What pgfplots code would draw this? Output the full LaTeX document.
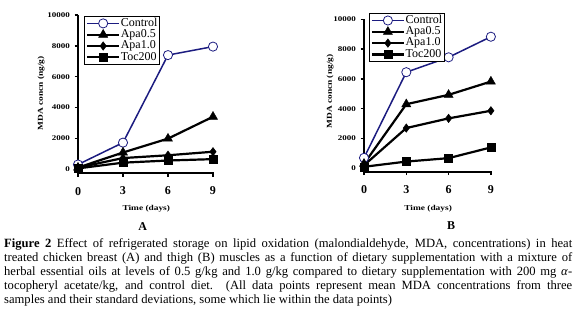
\documentclass[border=0pt]{standalone}
\usepackage{fontspec}
\setmainfont{Liberation Serif}
\newfontfamily\chartfont[FakeStretch=1.25]{Liberation Serif}
\usepackage{pgfplots}
\pgfplotsset{compat=1.18}
\definecolor{ctrl}{RGB}{28,28,128}

\pgfplotsset{
  mda/.style={
    scale only axis,
    axis lines*=left,
    axis line style={line width=1.8pt},
    xmin=0, xmax=9.1, ymax=10000,
    xtick={0,3,6,9},
    ytick={0,2000,4000,6000,8000,10000},
    tick align=outside,
    major tick length=3.5pt,
    every tick/.style={line width=1.5pt, black},
    scaled y ticks=false,
    /pgf/number format/assume math mode=true,
    /pgf/number format/1000 sep={},
    yticklabel style={font=\chartfont\bfseries\fontsize{7.2}{8}\selectfont, xshift=-1pt},
    xticklabel style={font=\bfseries\fontsize{12}{12}\selectfont, yshift=-7pt},
    ylabel={MDA concn (ng/g)},
    xlabel={Time (days)},
    label style={font=\chartfont\bfseries\fontsize{7.5}{8}\selectfont},
    clip=false,
    legend cell align=left,
    legend style={draw=black, line width=0.6pt, font=\fontsize{12}{12}\selectfont,
      inner sep=1.5pt, row sep=0pt, anchor=north west, fill=white,
      nodes={inner sep=0.5pt, text height=8pt, text depth=2.3pt}},
    legend image code/.code={\draw[mark repeat=2,mark phase=2] plot coordinates {(0pt,0pt) (16pt,0pt) (32pt,0pt)};},
  },
  ctrlp/.style={color=ctrl, line width=1.5pt, mark=*, mark size=4.6pt, mark options={fill=white, draw=ctrl, line width=0.8pt}},
  apa5/.style={color=black, line width=2.2pt, mark=triangle*, mark size=5.2pt, mark options={line width=0.5pt}},
  apa10/.style={color=black, line width=2.2pt, mark=diamond*, mark size=4.2pt, mark options={line width=0.5pt}},
  toc/.style={color=black, line width=2.2pt, mark=square*, mark size=4pt, mark options={line width=0.5pt}},
}

\begin{document}
\begin{tikzpicture}
\useasboundingbox (0,0) rectangle (580pt,314pt);

% Panel A
\begin{axis}[mda,
  at={(78pt,141pt)}, anchor=south west,
  width=136.5pt, height=158pt, ymin=-250,
  xlabel style={at={(axis description cs:0.5,-0.225)}, anchor=center},
  ylabel style={at={(axis description cs:-0.271,0.503)}, anchor=center},
  legend style={at={(axis description cs:0.046,0.994)}},
]
\addplot[ctrlp] coordinates {(0,300) (3,1720) (6,7400) (9,7950)};
\addplot[apa5] coordinates {(0,100) (3,1080) (6,1980) (9,3400)};
\addplot[apa10] coordinates {(0,100) (3,720) (6,900) (9,1130)};
\addplot[toc] coordinates {(0,50) (3,420) (6,560) (9,650)};
\legend{Control,Apa0.5,Apa1.0,Toc200}
\end{axis}

% Panel B
\begin{axis}[mda,
  at={(364pt,142.3pt)}, anchor=south west,
  width=128.3pt, height=152.4pt, ymin=-230,
  xlabel style={at={(axis description cs:0.5,-0.24)}, anchor=center},
  ylabel style={at={(axis description cs:-0.265,0.526)}, anchor=center},
  legend style={at={(axis description cs:0.039,1.041)}},
]
\addplot[ctrlp] coordinates {(0,700) (3,6450) (6,7450) (9,8830)};
\addplot[apa5] coordinates {(0,300) (3,4300) (6,4930) (9,5820)};
\addplot[apa10] coordinates {(0,200) (3,2700) (6,3350) (9,3860)};
\addplot[toc] coordinates {(0,100) (3,450) (6,680) (9,1400)};
\legend{Control,Apa0.5,Apa1.0,Toc200}
\end{axis}

\node[font=\bfseries\fontsize{12}{12}\selectfont] at (142.7pt,87.3pt) {A};
\node[font=\bfseries\fontsize{12}{12}\selectfont] at (451pt,88pt) {B};

\node[anchor=base west, inner sep=0pt] at (4pt,66.5pt) {\parbox[t]{568pt}{\fontsize{12.6}{14}\selectfont
\makebox[568pt][s]{\textbf{Figure 2} Effect of refrigerated storage on lipid oxidation (malondialdehyde, MDA, concentrations) in heat}\par
\makebox[568pt][s]{treated chicken breast (A) and thigh (B) muscles as a function of dietary supplementation with a mixture of}\par
\makebox[568pt][s]{herbal essential oils at levels of 0.5 g/kg and 1.0 g/kg compared to dietary supplementation with 200 mg \textit{α}-}\par
\makebox[568pt][s]{tocopheryl acetate/kg, and control diet. (All data points represent mean MDA concentrations from three}\par
samples and their standard deviations, some which lie within the data points)}};
\end{tikzpicture}
\end{document}
